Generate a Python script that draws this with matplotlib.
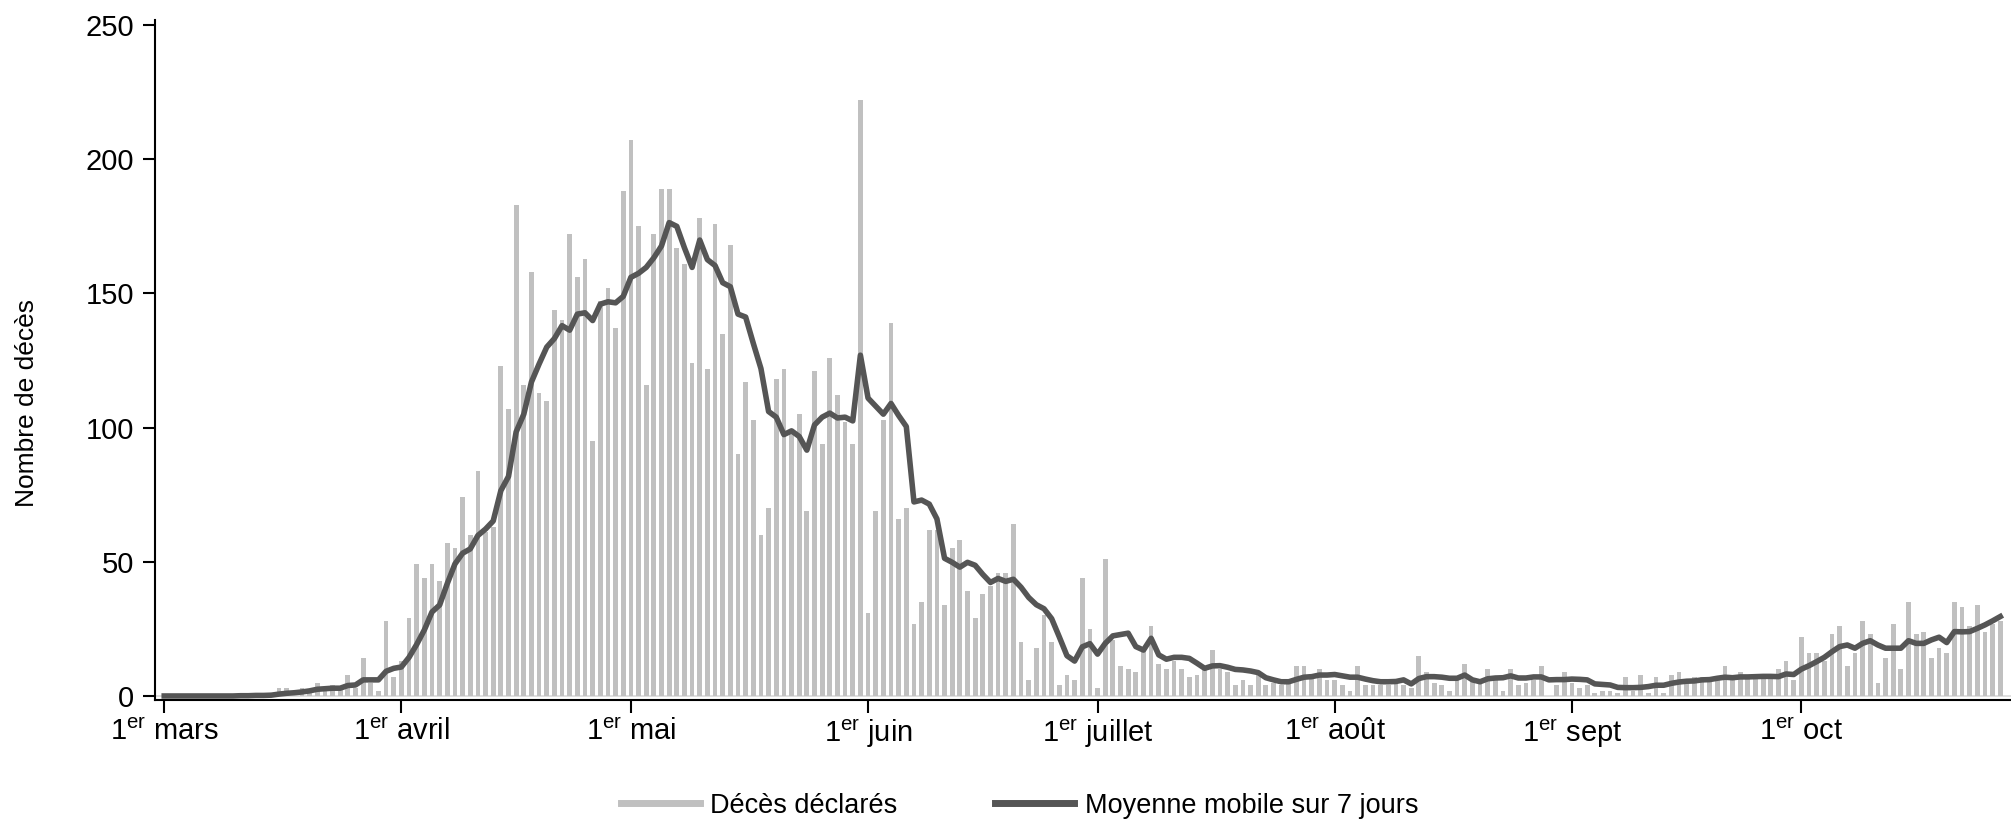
import matplotlib.pyplot as plt
from matplotlib import font_manager

# daily reported deaths, 1 March -> 27 October
deaths_mar = [0] * 15 + [3, 3, 0, 3, 1, 5, 3, 4, 3, 8, 3, 14, 5, 2, 28, 7]
deaths_apr = [13, 29, 49, 44, 49, 43, 57, 55, 74, 60, 84, 61, 63, 123, 107,
              183, 116, 158, 113, 110, 144, 140, 172, 156, 163, 95, 147, 152, 137, 188]
deaths_may = [207, 175, 116, 172, 189, 189, 167, 161, 124, 178, 122, 176, 135, 168, 90,
              117, 103, 60, 70, 118, 122, 98, 105, 69, 121, 94, 126, 112, 102, 94, 222]
deaths_jun = [31, 69, 103, 139, 66, 70, 27, 35, 62, 62, 34, 55, 58, 39, 29,
              38, 41, 46, 46, 64, 20, 6, 18, 30, 20, 4, 8, 6, 44, 25]
deaths_jul = [3, 51, 21, 11, 10, 9, 18, 26, 12, 10, 13, 10, 7, 8, 10, 17,
              10, 9, 4, 6, 4, 8, 4, 5, 4, 5, 11, 11, 7, 10, 6]
deaths_aug = [6, 4, 2, 11, 4, 4, 4, 4, 5, 4, 3, 15, 9, 5, 4, 2,
              6, 12, 6, 5, 10, 6, 2, 10, 4, 5, 6, 11, 0, 4, 9]
deaths_sep = [5, 3, 4, 1, 2, 2, 1, 7, 2, 8, 1, 7, 1, 8, 9,
              6, 7, 7, 6, 6, 11, 7, 9, 7, 7, 7, 7, 10, 13, 6]
deaths_oct = [22, 16, 16, 13, 23, 26, 11, 16, 28, 23, 5, 14, 27, 10,
              35, 23, 24, 14, 18, 16, 35, 33, 26, 34, 24, 27, 28]

# 7-day moving average
avg_mar = [0] * 10 + [0.1, 0.1, 0.2, 0.2, 0.3, 0.7, 1.0, 1.2, 1.5, 1.9, 2.5,
                      2.7, 2.9, 2.9, 3.9, 4.1, 6.0, 6.0, 6.0, 9.2, 10.3]
avg_apr = [10.8, 14.4, 19.2, 24.6, 31.3, 33.9, 41.9, 49.2, 53.2, 54.8, 59.8, 62.2,
           65.2, 76.5, 81.8, 98.4, 105, 117, 123.7, 130, 133.2, 138, 136.3, 142.3,
           142.8, 139.9, 146, 146.9, 146.5, 148.9]
avg_may = [156, 157.5, 159.7, 163.3, 167.7, 176.4, 175, 167, 159.7, 169.9, 162.6,
           160.4, 154, 152.5, 142.3, 141.2, 131.4, 122, 106, 103.9, 97.4, 98.8,
           96.7, 91.6, 101, 103.9, 105.4, 103.6, 103.9, 102.5, 127]
avg_jun = [111, 108, 105, 109, 104.5, 100.4, 72.3, 73, 71.5, 66, 51.3, 49.8, 48,
           49.8, 48.7, 45.3, 42.3, 43.8, 42.7, 43.5, 40.5, 36.7, 34, 32.5, 28.8,
           22, 15, 13, 18.3, 19.5]
avg_jul = [15.6, 19.6, 22.4, 22.9, 23.4, 18.4, 17.1, 21.5, 15.3, 13.7, 14.4, 14.4,
           14, 12.2, 10.3, 11.2, 11.3, 10.7, 9.9, 9.7, 9.3, 8.7, 6.8, 6, 5.3, 5.3,
           6.2, 7, 7.2, 7.8, 7.8]
avg_aug = [8, 7.5, 7, 7, 6.3, 5.7, 5.3, 5.3, 5.4, 6, 4.5, 6.5, 7.2, 7.2, 7, 6.6,
           6.6, 7.8, 6, 5.3, 6.4, 6.7, 6.8, 7.5, 6.7, 6.7, 7.1, 7.1, 6, 6.1, 6.1]
avg_sep = [6.3, 6.2, 6, 4.5, 4.3, 4.1, 3.2, 3.1, 3.1, 3.2, 3.5, 4, 4, 4.7, 5.2,
           5.5, 5.6, 6, 6.1, 6.6, 7, 6.8, 7.1, 7.1, 7.2, 7.3, 7.3, 7.2, 8.2, 8]
avg_oct = [10, 11.3, 12.8, 14.4, 16.5, 18.4, 19, 17.8, 19.6, 20.6, 19, 17.8, 17.8,
           17.8, 20.6, 19.6, 19.6, 20.9, 21.9, 19.9, 24, 23.9, 24, 25.2, 26.5, 28, 29.6]

month_labels = ["mars", "avril", "mai", "juin", "juillet", "août", "sept", "oct"]
month_lengths = [31, 30, 31, 30, 31, 31, 30, 31]

deaths = (deaths_mar + deaths_apr + deaths_may + deaths_jun
          + deaths_jul + deaths_aug + deaths_sep + deaths_oct)
avg7 = (avg_mar + avg_apr + avg_may + avg_jun
        + avg_jul + avg_aug + avg_sep + avg_oct)
days = list(range(len(deaths)))

# first day of each month as tick position
month_starts = [sum(month_lengths[:i]) for i in range(len(month_labels))]

BAR_GREY = "#c0c0c0"
LINE_GREY = "#555555"

plt.rcParams["font.family"] = ["Liberation Sans", "DejaVu Sans"]
plt.rcParams["mathtext.fontset"] = "custom"
plt.rcParams["mathtext.rm"] = "Liberation Sans"

# condensed font for the axis title and legend, if there is one
names = {f.name for f in font_manager.fontManager.ttflist}
if "Liberation Sans Narrow" in names:
    narrow = ["Liberation Sans Narrow", "DejaVu Sans"]
    narrow_size = 22
else:
    narrow = ["Liberation Sans", "DejaVu Sans"]
    narrow_size = 19

fig = plt.figure(figsize=(20.11, 8.19), dpi=100)
ax = fig.add_axes([0.0771, 0.1453, 0.9229, 0.8303])

ax.axhline(0, color="#d9d9d9", lw=1.2, zorder=1)
ax.bar(days, deaths, width=0.62, color=BAR_GREY, zorder=2)
ax.plot(days, avg7, color=LINE_GREY, lw=4.0, zorder=3)

ax.set_xlim(-1.2, 241.4)
ax.set_ylim(-1.5, 251.9)

ax.set_yticks([0, 50, 100, 150, 200, 250])
ax.set_xticks(month_starts)
ax.set_xticklabels([r"1$^{\mathrm{er}}$ " + m for m in month_labels])

ax.tick_params(axis="both", labelsize=21, length=9, width=1.5, direction="out")
ax.tick_params(axis="y", pad=6)
ax.tick_params(axis="x", pad=4)

for side in ["top", "right"]:
    ax.spines[side].set_visible(False)
for side in ["left", "bottom"]:
    ax.spines[side].set_linewidth(1.5)

ax.set_ylabel("Nombre de décès", family=narrow, fontsize=narrow_size)
ax.yaxis.set_label_coords(-0.0625, 0.437)

# legend below the chart, bars are shown as a line key
h_bar, = ax.plot([], [], color=BAR_GREY, lw=5)
h_avg, = ax.plot([], [], color=LINE_GREY, lw=5)
fig.legend([h_bar, h_avg], ["Décès déclarés", "Moyenne mobile sur 7 jours"],
           loc="center", bbox_to_anchor=(0.507, 0.016), ncol=2, frameon=False,
           handlelength=2.9, columnspacing=3.6, handletextpad=0.4,
           prop={"family": narrow, "size": 19.5})

plt.savefig("out.png", dpi=100)
